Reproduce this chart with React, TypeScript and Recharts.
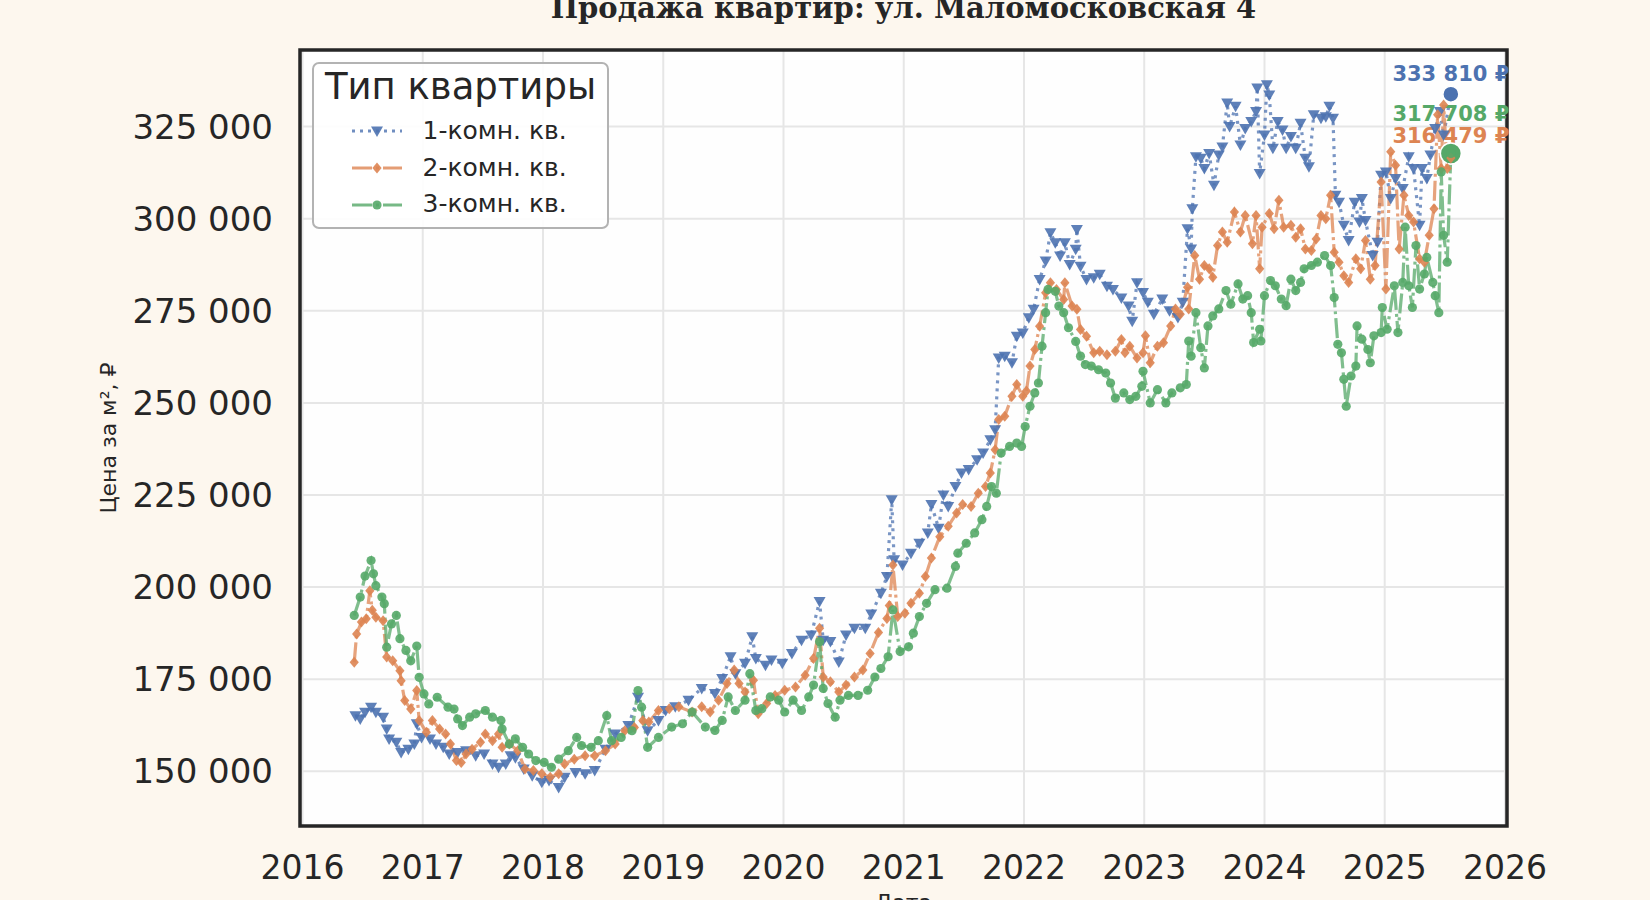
import React from 'react';
import { ComposedChart, Line, XAxis, YAxis, CartesianGrid, Legend, ReferenceDot, ReferenceArea } from 'recharts';

// prices are in thousands of rubles per m²
const oneRoomDates = [
  2016.44, 2016.48, 2016.52, 2016.57, 2016.61, 2016.67, 2016.70, 2016.72, 2016.78, 2016.82,
  2016.88, 2016.93, 2016.95, 2016.99, 2017.06, 2017.11, 2017.17, 2017.22, 2017.29, 2017.36,
  2017.44, 2017.51, 2017.58, 2017.63, 2017.69, 2017.73, 2017.77, 2017.84, 2017.91, 2017.99,
  2018.05, 2018.13, 2018.18, 2018.27, 2018.35, 2018.43, 2018.52, 2018.60, 2018.71, 2018.79,
  2018.87, 2018.96, 2019.02, 2019.10, 2019.21, 2019.32, 2019.43, 2019.49, 2019.56, 2019.60,
  2019.68, 2019.74, 2019.77, 2019.85, 2019.90, 2019.99, 2020.07, 2020.15, 2020.23, 2020.30,
  2020.33, 2020.39, 2020.46, 2020.52, 2020.59, 2020.68, 2020.73, 2020.81, 2020.86, 2020.90,
  2020.92, 2020.99, 2021.06, 2021.13, 2021.20, 2021.23, 2021.29, 2021.33, 2021.37, 2021.43,
  2021.48, 2021.54, 2021.61, 2021.66, 2021.72, 2021.76, 2021.79, 2021.84, 2021.90, 2021.94,
  2021.99, 2022.04, 2022.08, 2022.13, 2022.18, 2022.22, 2022.26, 2022.30, 2022.34, 2022.38,
  2022.43, 2022.44, 2022.47, 2022.52, 2022.58, 2022.63, 2022.69, 2022.74, 2022.81, 2022.87,
  2022.90, 2022.94, 2022.99, 2023.03, 2023.08, 2023.15, 2023.21, 2023.28, 2023.32, 2023.36,
  2023.39, 2023.40, 2023.43, 2023.47, 2023.50, 2023.54, 2023.58, 2023.62, 2023.65, 2023.69,
  2023.71, 2023.76, 2023.80, 2023.84, 2023.89, 2023.93, 2023.94, 2023.96, 2024.00, 2024.02,
  2024.04, 2024.07, 2024.11, 2024.15, 2024.18, 2024.22, 2024.26, 2024.30, 2024.34, 2024.37,
  2024.41, 2024.47, 2024.51, 2024.54, 2024.57, 2024.59, 2024.62, 2024.66, 2024.70, 2024.75,
  2024.79, 2024.81, 2024.84, 2024.90, 2024.94, 2024.97, 2025.01, 2025.05, 2025.09, 2025.15,
  2025.20, 2025.24, 2025.29, 2025.31, 2025.35, 2025.38, 2025.42, 2025.46, 2025.49, 2025.55,
];
const oneRoomPrices = [
  165.1, 164.2, 166.0, 167.4, 166.0, 164.7, 161.5, 158.8, 157.9, 155.1,
  156.0, 157.4, 162.9, 159.2, 158.8, 157.4, 156.5, 154.7, 155.1, 155.6,
  154.2, 154.7, 152.0, 151.1, 152.0, 154.2, 153.7, 150.6, 148.8, 147.0,
  147.5, 145.6, 148.4, 149.7, 149.3, 150.2, 156.0, 160.1, 162.4, 170.1,
  161.0, 163.8, 166.5, 167.5, 169.3, 172.5, 171.1, 175.2, 181.1, 176.5,
  179.3, 186.5, 180.6, 178.8, 180.2, 179.3, 182.0, 185.6, 187.0, 196.1,
  185.6, 185.2, 179.7, 187.0, 188.8, 188.8, 192.7, 198.3, 202.9, 223.7,
  207.4, 206.0, 209.2, 211.9, 214.7, 222.4, 216.0, 225.0, 221.9, 227.3,
  231.0, 231.9, 234.6, 236.4, 240.0, 242.7, 262.2, 262.7, 260.9, 268.1,
  269.0, 273.1, 275.4, 283.5, 288.5, 296.2, 293.5, 289.9, 293.5, 287.6,
  291.7, 297.1, 287.1, 283.5, 284.0, 284.9, 281.7, 280.8, 278.5, 276.3,
  272.2, 282.6, 280.0, 277.3, 274.1, 278.2, 275.0, 273.2, 277.3, 297.3,
  291.8, 302.7, 316.8, 316.4, 313.6, 317.7, 309.1, 317.3, 319.5, 331.4,
  325.0, 330.5, 320.0, 324.5, 326.4, 329.1, 335.5, 312.3, 322.7, 336.4,
  333.6, 319.1, 326.4, 324.1, 319.1, 322.3, 319.1, 325.9, 316.4, 314.1,
  328.2, 327.3, 327.7, 330.5, 327.3, 306.4, 304.5, 298.2, 294.1, 304.5,
  299.1, 305.5, 299.5, 290.0, 293.6, 311.8, 312.7, 305.5, 310.9, 308.2,
  316.8, 313.6, 298.2, 313.6, 310.9, 317.3, 324.5, 329.1, 322.7, 333.81,
];

const twoRoomDates = [
  2016.43, 2016.45, 2016.49, 2016.53, 2016.56, 2016.58, 2016.61, 2016.67, 2016.70, 2016.75,
  2016.81, 2016.82, 2016.85, 2016.90, 2016.95, 2016.97, 2017.03, 2017.08, 2017.14, 2017.19,
  2017.23, 2017.28, 2017.32, 2017.36, 2017.41, 2017.48, 2017.52, 2017.58, 2017.63, 2017.66,
  2017.72, 2017.79, 2017.85, 2017.92, 2017.99, 2018.06, 2018.13, 2018.18, 2018.26, 2018.35,
  2018.43, 2018.52, 2018.60, 2018.68, 2018.76, 2018.83, 2018.88, 2018.96, 2019.05, 2019.13,
  2019.24, 2019.32, 2019.39, 2019.46, 2019.53, 2019.59, 2019.63, 2019.68, 2019.75, 2019.79,
  2019.86, 2019.93, 2020.01, 2020.10, 2020.18, 2020.25, 2020.30, 2020.33, 2020.39, 2020.46,
  2020.52, 2020.59, 2020.66, 2020.72, 2020.79, 2020.86, 2020.88, 2020.91, 2020.95, 2021.01,
  2021.06, 2021.13, 2021.18, 2021.23, 2021.30, 2021.37, 2021.44, 2021.49, 2021.56, 2021.62,
  2021.68, 2021.72, 2021.76, 2021.79, 2021.84, 2021.90, 2021.94, 2021.99, 2022.02, 2022.05,
  2022.09, 2022.13, 2022.18, 2022.22, 2022.27, 2022.33, 2022.34, 2022.40, 2022.44, 2022.47,
  2022.52, 2022.58, 2022.63, 2022.69, 2022.76, 2022.81, 2022.84, 2022.88, 2022.94, 2022.99,
  2023.01, 2023.05, 2023.11, 2023.16, 2023.22, 2023.26, 2023.30, 2023.36, 2023.37, 2023.42,
  2023.46, 2023.50, 2023.54, 2023.57, 2023.61, 2023.65, 2023.69, 2023.75, 2023.80, 2023.84,
  2023.90, 2023.93, 2023.96, 2023.98, 2024.04, 2024.08, 2024.12, 2024.16, 2024.22, 2024.26,
  2024.30, 2024.34, 2024.39, 2024.43, 2024.47, 2024.51, 2024.55, 2024.58, 2024.62, 2024.66,
  2024.70, 2024.76, 2024.80, 2024.84, 2024.88, 2024.92, 2024.97, 2025.01, 2025.05, 2025.09,
  2025.12, 2025.16, 2025.20, 2025.24, 2025.29, 2025.33, 2025.37, 2025.41, 2025.44, 2025.47,
  2025.49, 2025.52, 2025.55,
];
const twoRoomPrices = [
  179.6, 187.3, 190.5, 191.4, 199.0, 193.7, 191.8, 190.9, 181.0, 180.0,
  177.3, 174.6, 169.2, 166.9, 171.9, 163.8, 160.6, 163.8, 161.5, 160.1,
  157.4, 152.9, 152.4, 154.7, 156.0, 157.9, 160.1, 158.3, 160.1, 156.5,
  157.4, 155.6, 150.6, 150.2, 149.3, 148.4, 149.3, 152.0, 153.3, 154.2,
  154.2, 155.6, 157.4, 161.0, 161.9, 163.8, 163.4, 166.5, 167.0, 167.5,
  166.1, 167.5, 166.1, 169.3, 173.8, 177.5, 173.8, 171.5, 174.7, 165.6,
  168.4, 170.6, 172.0, 172.9, 176.1, 180.6, 188.8, 175.6, 174.3, 171.5,
  173.4, 175.6, 177.5, 182.0, 187.7, 191.5, 195.0, 206.0, 192.0, 192.9,
  195.6, 198.3, 202.9, 207.9, 213.7, 216.5, 220.1, 222.4, 221.9, 225.5,
  227.3, 231.0, 237.3, 245.5, 246.4, 251.8, 255.0, 251.8, 253.2, 260.0,
  264.5, 270.8, 279.9, 282.6, 280.8, 278.1, 282.6, 276.3, 275.4, 269.9,
  268.1, 263.6, 264.0, 263.1, 264.0, 267.2, 263.6, 265.4, 262.2, 263.6,
  268.2, 260.9, 265.4, 266.3, 270.9, 275.5, 274.1, 281.4, 275.5, 290.0,
  283.6, 287.3, 286.4, 284.1, 292.7, 296.4, 293.6, 301.8, 296.4, 300.9,
  293.2, 300.9, 286.4, 297.7, 301.4, 297.3, 305.0, 297.7, 298.2, 295.0,
  297.3, 291.8, 291.4, 294.5, 300.9, 300.0, 306.4, 290.9, 288.2, 284.5,
  282.7, 289.1, 286.4, 294.1, 283.6, 287.3, 310.0, 280.9, 318.2, 314.5,
  291.8, 306.4, 300.9, 299.1, 289.1, 288.2, 295.5, 302.7, 328.2, 313.6,
  330.9, 313.6, 316.479,
];

const threeRoomDates = [
  2016.43, 2016.48, 2016.52, 2016.57, 2016.59, 2016.61, 2016.66, 2016.68, 2016.70, 2016.74,
  2016.78, 2016.81, 2016.86, 2016.90, 2016.95, 2016.97, 2017.01, 2017.05, 2017.12, 2017.21,
  2017.26, 2017.29, 2017.33, 2017.39, 2017.44, 2017.52, 2017.58, 2017.65, 2017.66, 2017.72,
  2017.77, 2017.83, 2017.88, 2017.94, 2018.01, 2018.07, 2018.13, 2018.21, 2018.28, 2018.32,
  2018.40, 2018.46, 2018.53, 2018.57, 2018.65, 2018.74, 2018.79, 2018.82, 2018.87, 2018.96,
  2019.07, 2019.16, 2019.24, 2019.35, 2019.43, 2019.49, 2019.54, 2019.60, 2019.68, 2019.72,
  2019.77, 2019.82, 2019.89, 2019.96, 2020.01, 2020.08, 2020.15, 2020.21, 2020.25, 2020.30,
  2020.33, 2020.37, 2020.43, 2020.47, 2020.54, 2020.62, 2020.70, 2020.76, 2020.81, 2020.87,
  2020.91, 2020.97, 2021.04, 2021.08, 2021.13, 2021.19, 2021.26, 2021.36, 2021.43, 2021.45,
  2021.52, 2021.59, 2021.65, 2021.69, 2021.73, 2021.77, 2021.81, 2021.88, 2021.94, 2021.98,
  2022.01, 2022.05, 2022.09, 2022.12, 2022.15, 2022.18, 2022.20, 2022.26, 2022.29, 2022.33,
  2022.37, 2022.43, 2022.47, 2022.51, 2022.56, 2022.62, 2022.68, 2022.72, 2022.76, 2022.83,
  2022.88, 2022.93, 2022.98, 2022.99, 2023.05, 2023.11, 2023.18, 2023.23, 2023.30, 2023.35,
  2023.37, 2023.39, 2023.43, 2023.47, 2023.50, 2023.53, 2023.57, 2023.62, 2023.68, 2023.72,
  2023.78, 2023.82, 2023.86, 2023.89, 2023.91, 2023.96, 2023.97, 2024.00, 2024.05, 2024.09,
  2024.14, 2024.18, 2024.22, 2024.26, 2024.30, 2024.33, 2024.39, 2024.44, 2024.50, 2024.55,
  2024.58, 2024.61, 2024.64, 2024.66, 2024.68, 2024.72, 2024.76, 2024.77, 2024.81, 2024.86,
  2024.88, 2024.91, 2024.97, 2024.98, 2025.02, 2025.08, 2025.11, 2025.15, 2025.17, 2025.20,
  2025.23, 2025.26, 2025.29, 2025.33, 2025.35, 2025.40, 2025.42, 2025.45, 2025.47, 2025.49,
  2025.52, 2025.55,
];
const threeRoomPrices = [
  192.3, 197.3, 203.0, 207.2, 203.6, 200.4, 197.3, 195.5, 183.7, 190.0,
  192.3, 186.0, 182.8, 180.0, 184.0, 175.5, 171.0, 168.3, 170.1, 167.4,
  166.9, 164.2, 162.4, 164.7, 165.6, 166.5, 164.7, 163.8, 161.5, 157.4,
  158.8, 156.5, 154.7, 152.9, 152.4, 151.1, 153.3, 155.6, 159.2, 157.0,
  156.5, 158.3, 165.1, 158.3, 159.2, 161.0, 171.9, 167.4, 156.5, 159.2,
  162.0, 162.9, 166.1, 162.0, 161.1, 163.8, 170.2, 166.5, 169.3, 176.5,
  166.5, 167.0, 170.2, 169.3, 166.1, 169.3, 166.5, 170.2, 173.4, 185.2,
  172.5, 168.4, 164.7, 169.3, 170.6, 170.6, 172.0, 175.6, 177.9, 181.1,
  193.8, 182.5, 183.8, 187.5, 192.0, 195.6, 199.3, 199.7, 205.6, 209.2,
  211.9, 214.7, 218.3, 221.9, 227.3, 225.5, 236.4, 238.2, 239.1, 238.2,
  243.6, 249.1, 252.7, 255.4, 265.4, 274.5, 280.8, 280.3, 276.3, 274.5,
  270.4, 266.7, 262.7, 260.4, 260.0, 259.0, 258.1, 255.4, 251.3, 252.7,
  250.9, 251.8, 254.5, 258.6, 250.0, 253.6, 250.0, 252.7, 254.1, 255.0,
  266.8, 262.7, 274.5, 265.0, 259.5, 270.9, 273.6, 275.5, 280.5, 276.8,
  282.3, 278.2, 279.1, 274.5, 266.4, 270.0, 266.8, 279.1, 283.2, 281.8,
  278.2, 276.4, 283.6, 280.5, 282.7, 286.4, 287.3, 288.2, 290.0, 287.3,
  278.6, 265.9, 263.6, 256.4, 249.1, 257.3, 260.0, 270.9, 267.3, 264.5,
  260.9, 268.2, 269.1, 275.9, 270.0, 281.8, 269.1, 282.7, 297.7, 281.8,
  275.9, 292.7, 280.9, 285.0, 289.5, 282.7, 279.1, 274.5, 312.7, 295.5,
  288.2, 317.708,
];

const seriesNames = ['1-комн. кв.', '2-комн. кв.', '3-комн. кв.'];
const lastDates = [2025.55, 2025.55, 2025.55];
const lastPrices = [333.81, 316.479, 317.708];
const lastLabels = ['333 810 ₽', '316 479 ₽', '317 708 ₽'];
const yearTicks = [2016, 2017, 2018, 2019, 2020, 2021, 2022, 2023, 2024, 2025, 2026];
const priceTicks = [150, 175, 200, 225, 250, 275, 300, 325];

const colors = ['#4c72b0', '#dd8452', '#55a868'];
const dashes = ['3 5', '20 4 3 4', '20 4 3 4'];
const labelLift = [13, 15, 32];
const bigDotR = [8, 6, 10.5];
const ink = '#262626';
const font = 'DejaVu Sans';
const xDomain = [2015.979, 2026.017];
const yDomain = [135.15, 345.8];

const toPoints = (dates: number[], prices: number[]) => dates.map((t, i) => ({ t, v: prices[i] }));
const series = [
  toPoints(oneRoomDates, oneRoomPrices),
  toPoints(twoRoomDates, twoRoomPrices),
  toPoints(threeRoomDates, threeRoomPrices),
];

function Marker({ kind, cx, cy, color }: { kind: number; cx: number; cy: number; color: string }) {
  if (cx == null || cy == null) return null;
  if (kind === 0) {
    return <path d={`M${cx - 6},${cy - 4.5}L${cx + 6},${cy - 4.5}L${cx},${cy + 6}Z`} fill={color} fillOpacity={0.9} />;
  }
  if (kind === 1) {
    return <path d={`M${cx},${cy - 5.5}L${cx + 4.6},${cy}L${cx},${cy + 5.5}L${cx - 4.6},${cy}Z`} fill={color} fillOpacity={0.9} />;
  }
  return <circle cx={cx} cy={cy} r={4.6} fill={color} fillOpacity={0.9} />;
}

function LegendBox() {
  return (
    <div
      style={{
        width: 297,
        height: 167,
        boxSizing: 'border-box',
        border: '2.5px solid #b3b3b3',
        borderRadius: 7,
        background: 'rgba(255,255,255,0.9)',
        fontFamily: font,
        color: ink,
      }}
    >
      <div style={{ fontSize: 37, lineHeight: '44px', marginTop: 1, textAlign: 'center' }}>Тип квартиры</div>
      <div style={{ marginTop: 4 }}>
        {seriesNames.map((name, i) => (
          <div key={name} style={{ height: 36.7, display: 'flex', alignItems: 'center' }}>
            <svg width={50} height={20} style={{ marginLeft: 37.5 }}>
              <line x1={0} y1={10} x2={50} y2={10} stroke={colors[i]} strokeWidth={3} strokeOpacity={0.8} strokeDasharray={dashes[i]} />
              <Marker kind={i} cx={25} cy={10} color={colors[i]} />
            </svg>
            <span style={{ fontSize: 25, marginLeft: 21, lineHeight: '36.7px' }}>{name}</span>
          </div>
        ))}
      </div>
    </div>
  );
}

export default function App() {
  return (
    <div style={{ position: 'absolute', left: 0, top: 0, width: 1650, height: 900, background: '#fdf7ee', overflow: 'hidden' }}>
      <ComposedChart width={1650} height={900} margin={{ top: 50, right: 143, bottom: 0, left: 0 }}>
        <CartesianGrid stroke="#e6e6e6" strokeWidth={2} fill="#fefefe" fillOpacity={1} />
        <XAxis
          dataKey="t"
          type="number"
          domain={xDomain}
          ticks={yearTicks}
          allowDataOverflow
          height={74}
          tickLine={false}
          tickSize={6}
          tickMargin={24}
          tick={{ fontSize: 33, fill: ink, fontFamily: font }}
          axisLine={false}
        />
        <YAxis
          dataKey="v"
          type="number"
          domain={yDomain}
          ticks={priceTicks}
          allowDataOverflow
          width={300}
          tickLine={false}
          tickSize={6}
          tickMargin={21}
          tickFormatter={(v: number) => `${v} 000`}
          tick={{ fontSize: 34, fill: ink, fontFamily: font }}
          axisLine={false}
        />
        <ReferenceArea
          x1={xDomain[0]}
          x2={xDomain[1]}
          y1={yDomain[0]}
          y2={yDomain[1]}
          fill="none"
          stroke={ink}
          strokeWidth={3.5}
          ifOverflow="visible"
        />
        {series.map((pts, i) => (
          <Line
            key={seriesNames[i]}
            data={pts}
            dataKey="v"
            name={seriesNames[i]}
            type="linear"
            stroke={colors[i]}
            strokeWidth={3.2}
            strokeOpacity={0.75}
            strokeDasharray={dashes[i]}
            dot={(p: any) => <Marker key={`${i}-${p.index}`} kind={i} cx={p.cx} cy={p.cy} color={colors[i]} />}
            activeDot={false}
            isAnimationActive={false}
          />
        ))}
        {lastPrices.map((v, i) => (
          <ReferenceDot
            key={lastLabels[i]}
            x={lastDates[i]}
            y={v}
            r={bigDotR[i]}
            ifOverflow="visible"
            shape={(p: any) => (
              <g>
                <circle cx={p.cx} cy={p.cy} r={bigDotR[i]} fill={colors[i]} stroke="#ffffff" strokeWidth={1.5} />
                <text x={p.cx} y={p.cy - labelLift[i]} textAnchor="middle" fontFamily={font} fontWeight="bold" fontSize={21} fill={colors[i]}>
                  {lastLabels[i]}
                </text>
              </g>
            )}
          />
        ))}
        <Legend
          layout="vertical"
          align="center"
          verticalAlign="middle"
          content={() => <LegendBox />}
          wrapperStyle={{ left: 312, top: 62, width: 297, height: 167 }}
        />
      </ComposedChart>
      <svg width={1650} height={900} style={{ position: 'absolute', left: 0, top: 0, pointerEvents: 'none' }}>
        <text x={903.5} y={18} textAnchor="middle" fontFamily="DejaVu Serif" fontWeight="bold" fontSize={29} fill={ink}>
          Продажа квартир: ул. Маломосковская 4
        </text>
        <text x={116} y={438} transform="rotate(-90 116 438)" textAnchor="middle" fontFamily={font} fontSize={22} fill={ink}>
          Цена за м², ₽
        </text>
        <text x={903.5} y={910} textAnchor="middle" fontFamily={font} fontSize={22} fill={ink}>
          Дата
        </text>
      </svg>
    </div>
  );
}
